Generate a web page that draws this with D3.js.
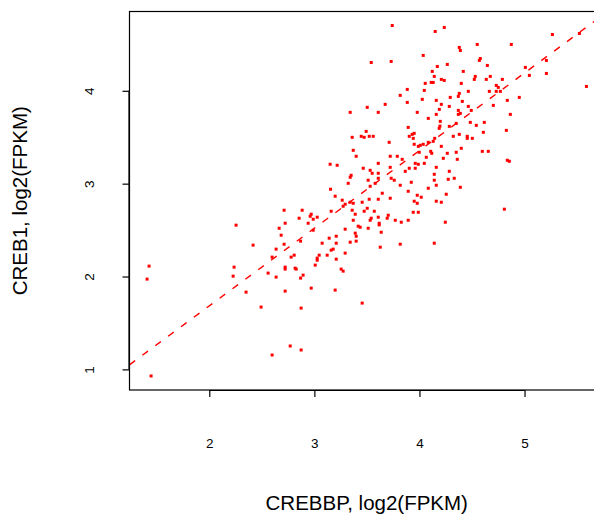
<!DOCTYPE html>
<html>
<head>
<meta charset="utf-8">
<script src="https://cdn.jsdelivr.net/npm/d3@7"></script>
<style>
  html, body { margin: 0; padding: 0; background: #fff; }
  svg { display: block; }
  text { font-family: "Liberation Sans", Arial, sans-serif; fill: #000; }
</style>
</head>
<body>
<svg id="chart" width="594" height="519"></svg>
<script>
// CREBBP (x) vs CREB1 (y), log2(FPKM)
const crebbp = [
3.741,4.036,3.541,3.731,4.055,3.884,4.046,3.817,4.027,3.674,3.884,3.503,3.341,3.608,3.979,4.084,
4.150,4.236,4.379,4.389,4.550,4.874,4.579,4.570,4.265,4.170,4.646,4.122,4.417,5.008,5.046,4.141,
4.531,4.674,4.208,4.236,4.522,4.636,4.789,4.112,4.131,4.398,4.731,4.750,4.465,4.665,4.731,4.770,
4.379,4.370,4.293,4.950,4.160,4.408,4.836,4.208,4.284,4.465,4.703,4.189,4.370,4.493,4.160,4.370,
4.389,4.865,4.198,4.350,4.484,4.617,
4.195,4.188,4.284,4.541,4.145,4.131,4.322,4.379,4.455,4.455,4.503,4.608,4.827,4.208,4.398,4.107,
4.117,4.265,4.350,4.598,4.655,4.227,4.360,4.836,4.855,4.160,4.284,4.141,4.331,4.274,4.141,4.160,
4.389,4.255,4.160,4.208,4.808,4.246,4.141,
3.493,3.360,3.446,3.474,3.522,3.560,3.893,3.903,3.931,3.950,3.941,3.712,3.950,3.989,4.008,4.036,
4.084,3.370,3.398,3.722,3.789,3.998,4.065,3.836,3.608,3.960,3.989,4.046,3.150,3.217,3.465,3.722,
3.903,3.960,3.531,3.865,3.550,3.608,3.350,3.341,3.608,3.731,3.760,3.512,3.922,3.322,3.579,3.531,
3.817,4.084,3.154,3.893,3.646,3.198,3.979,4.017,3.522,3.608,3.722,3.265,3.341,3.370,3.950,3.455,
3.979,3.274,3.293,3.503,3.160,3.360,3.474,3.570,3.941,3.989,3.389,3.703,3.541,3.608,3.693,3.770,
3.370,3.531,3.827,3.617,3.893,
2.989,3.293,3.417,3.436,3.512,3.617,3.389,3.398,3.636,3.141,3.208,2.869,3.074,3.208,3.341,3.398,
3.627,3.817,3.179,3.160,3.293,3.046,3.122,3.027,3.027,3.208,3.008,3.255,3.274,2.893,2.869,2.970,
3.198,3.455,2.874,
2.712,2.884,2.970,2.960,3.027,2.989,2.855,2.722,2.941,2.255,2.665,2.684,2.417,2.712,2.636,2.808,
2.598,2.779,2.236,2.722,2.722,2.817,2.827,2.560,2.227,2.636,2.350,2.722,2.493,
1.427,1.408,1.446,2.598,2.770,2.874,5.265,5.522,5.208,5.208,5.589
];
const creb1 = [
4.703,4.381,4.305,4.316,4.080,4.015,4.004,3.951,3.908,3.854,3.875,3.822,3.768,3.768,3.768,3.703,
4.639,4.682,4.467,4.434,4.499,4.499,4.348,4.327,4.284,4.262,4.273,4.209,4.209,4.252,4.166,4.155,
4.155,4.155,4.123,4.112,4.123,4.123,4.123,4.090,4.090,4.080,4.058,4.037,3.994,3.994,3.994,3.994,
3.972,3.940,3.929,3.929,3.897,3.886,3.897,3.854,3.832,3.832,3.843,3.800,3.789,3.789,3.746,3.746,
3.757,3.746,3.671,3.649,3.660,3.660,
3.620,3.596,3.617,3.628,3.488,3.456,3.510,3.531,3.510,3.488,3.488,3.553,3.574,3.402,3.381,3.348,
3.327,3.327,3.338,3.348,3.348,3.273,3.262,3.252,3.241,3.176,3.133,3.101,3.058,3.047,3.037,2.983,
2.961,2.886,2.811,2.800,2.725,2.585,2.359,
3.563,3.499,3.510,3.499,3.510,3.510,3.606,3.510,3.531,3.542,3.488,3.445,3.424,3.402,3.413,3.424,
3.445,3.359,3.295,3.295,3.295,3.338,3.284,3.262,3.219,3.219,3.209,3.219,3.209,3.198,3.166,3.176,
3.166,3.166,3.144,3.133,3.112,3.112,3.090,3.069,3.058,3.058,3.037,3.037,3.015,3.004,3.004,2.972,
2.983,2.951,2.940,2.918,2.897,2.865,2.875,2.854,2.832,2.832,2.843,2.822,2.800,2.789,2.811,2.800,
2.789,2.757,2.779,2.735,2.703,2.714,2.703,2.703,2.692,2.692,2.671,2.660,2.628,2.639,2.628,2.606,
2.606,2.606,2.585,2.574,2.606,
2.499,2.510,2.542,2.531,2.520,2.556,2.467,2.434,2.477,2.413,2.434,2.381,2.359,2.359,2.370,2.381,
2.316,2.348,2.295,2.284,2.252,2.230,2.230,2.198,2.176,2.187,2.123,2.080,2.058,2.015,1.983,1.875,
1.854,1.714,1.660,
2.714,2.714,2.671,2.649,2.639,2.617,2.628,2.574,2.574,2.553,2.520,2.445,2.338,2.348,2.295,2.230,
2.209,2.209,2.101,2.101,2.080,2.090,2.080,2.037,2.004,1.994,1.832,1.843,1.671,
2.112,1.972,0.929,1.155,1.252,1.209,4.606,4.617,4.327,4.187,4.047
];
// fitted line: CREB1 = intercept + slope * CREBBP
const fitIntercept = 0.012;
const fitSlope = 0.836;
const xTicks = [2, 3, 4, 5];
const yTicks = [1, 2, 3, 4];
const xTitle = "CREBBP, log2(FPKM)";
const yTitle = "CREB1, log2(FPKM)";

const svg = d3.select("#chart");
const plot = { left: 129.5, right: 604, top: 11.5, bottom: 390 };

function padded(ext) {
  const r = ext[1] - ext[0];
  return [ext[0] - 0.04 * r, ext[1] + 0.04 * r];
}
const x = d3.scaleLinear().domain(padded(d3.extent(crebbp))).range([plot.left, plot.right]);
const y = d3.scaleLinear().domain(padded(d3.extent(creb1))).range([plot.bottom, plot.top]);

svg.append("defs").append("clipPath").attr("id", "clip")
  .append("rect")
  .attr("x", plot.left).attr("y", plot.top)
  .attr("width", plot.right - plot.left).attr("height", plot.bottom - plot.top);

// points
const pts = crebbp.map((v, i) => ({ x: v, y: creb1[i] }));
svg.append("g").selectAll("rect").data(pts).enter().append("rect")
  .attr("x", d => x(d.x) - 1.5)
  .attr("y", d => y(d.y) - 1.5)
  .attr("width", 3).attr("height", 3)
  .attr("fill", "#ff0000");

// regression line (dashed)
const xd = x.domain();
svg.append("line")
  .attr("clip-path", "url(#clip)")
  .attr("x1", x(xd[0])).attr("y1", y(fitIntercept + fitSlope * xd[0]))
  .attr("x2", x(xd[1])).attr("y2", y(fitIntercept + fitSlope * xd[1]))
  .attr("stroke", "#ff0000").attr("stroke-width", 1.4)
  .attr("stroke-dasharray", "7,9");

// box
svg.append("rect")
  .attr("x", plot.left).attr("y", plot.top)
  .attr("width", plot.right - plot.left).attr("height", plot.bottom - plot.top)
  .attr("fill", "none").attr("stroke", "#000").attr("stroke-width", 1.2);

// x axis
const xAxis = d3.axisBottom(x).tickValues(xTicks).tickSize(7).tickFormat(d3.format("d"));
const gx = svg.append("g").attr("transform", `translate(0,${plot.bottom})`).call(xAxis);
gx.select(".domain").attr("d", `M${x(xTicks[0])},0.5H${x(xTicks[xTicks.length - 1])}`).attr("stroke", "#000").attr("stroke-width", 1.2);
gx.selectAll(".tick line").attr("stroke", "#000").attr("stroke-width", 1.2);
gx.selectAll(".tick text").attr("y", 58).attr("dy", null)
  .style("font-size", "13.5px").style("font-family", "'Liberation Sans', Arial, sans-serif").attr("fill", "#000");

// y axis
const yAxis = d3.axisLeft(y).tickValues(yTicks).tickSize(7).tickFormat(d3.format("d"));
const gy = svg.append("g").attr("transform", `translate(${plot.left},0)`).call(yAxis);
gy.select(".domain").attr("d", `M-0.5,${y(yTicks[0])}V${y(yTicks[yTicks.length - 1])}`).attr("stroke", "#000").attr("stroke-width", 1.2);
gy.selectAll(".tick line").attr("stroke", "#000").attr("stroke-width", 1.2);
gy.selectAll(".tick text")
  .attr("x", null).attr("dy", null)
  .attr("text-anchor", "middle")
  .attr("transform", "translate(-36,0) rotate(-90)")
  .style("font-size", "13.5px").style("font-family", "'Liberation Sans', Arial, sans-serif").attr("fill", "#000");

// titles
svg.append("text")
  .attr("x", (plot.left + plot.right) / 2).attr("y", 510)
  .attr("text-anchor", "middle")
  .style("font-size", "20.5px")
  .text(xTitle);
svg.append("text")
  .attr("transform", `translate(27,${(plot.top + plot.bottom) / 2}) rotate(-90)`)
  .attr("text-anchor", "middle")
  .style("font-size", "20.5px")
  .text(yTitle);
</script>
</body>
</html>
